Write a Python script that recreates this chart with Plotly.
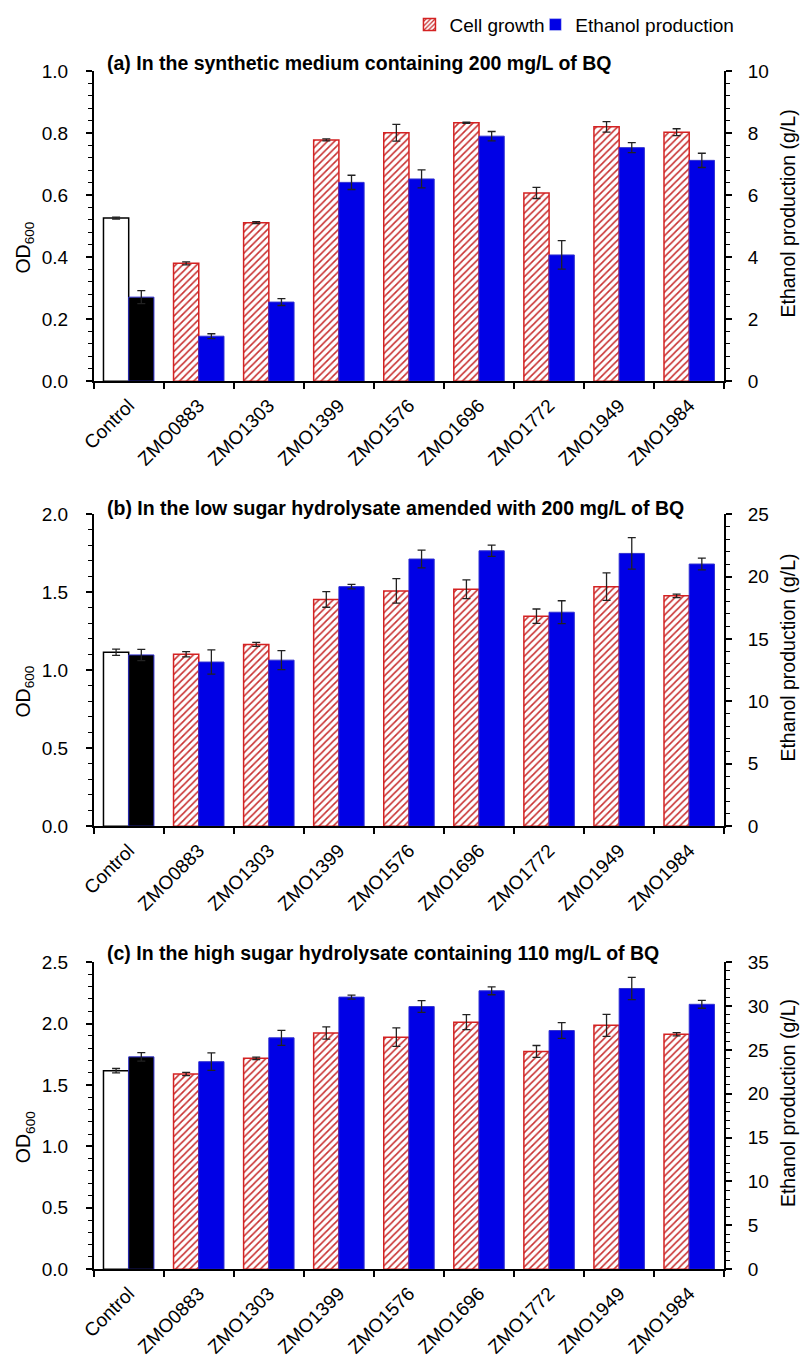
import plotly.graph_objects as go

categories = ["Control", "ZMO0883", "ZMO1303", "ZMO1399", "ZMO1576",
              "ZMO1696", "ZMO1772", "ZMO1949", "ZMO1984"]

# Panel (a) synthetic medium, 200 mg/L BQ
od_a = [0.526, 0.380, 0.511, 0.778, 0.801, 0.833, 0.607, 0.820, 0.803]
od_a_err = [0.003, 0.005, 0.003, 0.003, 0.027, 0.002, 0.018, 0.017, 0.011]
eth_a = [2.71, 1.45, 2.55, 6.41, 6.52, 7.90, 4.07, 7.53, 7.12]
eth_a_err = [0.21, 0.08, 0.11, 0.23, 0.29, 0.15, 0.46, 0.16, 0.23]

# Panel (b) low sugar hydrolysate, 200 mg/L BQ
od_b = [1.115, 1.102, 1.165, 1.453, 1.508, 1.518, 1.346, 1.535, 1.476]
od_b_err = [0.020, 0.017, 0.013, 0.050, 0.078, 0.060, 0.046, 0.088, 0.011]
eth_b = [13.72, 13.15, 13.30, 19.19, 21.40, 22.06, 17.14, 21.85, 21.00]
eth_b_err = [0.45, 0.97, 0.76, 0.18, 0.71, 0.45, 0.92, 1.26, 0.47]

# Panel (c) high sugar hydrolysate, 110 mg/L BQ
od_c = [1.616, 1.589, 1.717, 1.923, 1.889, 2.011, 1.773, 1.985, 1.913]
od_c_err = [0.018, 0.013, 0.010, 0.050, 0.075, 0.061, 0.048, 0.090, 0.013]
eth_c = [24.2, 23.65, 26.37, 31.01, 29.93, 31.73, 27.20, 31.99, 30.19]
eth_c_err = [0.48, 1.00, 0.86, 0.22, 0.67, 0.45, 0.90, 1.27, 0.45]

titles = ["(a) In the synthetic medium containing 200 mg/L of BQ",
          "(b) In the low sugar hydrolysate amended with 200 mg/L of BQ",
          "(c) In the high sugar hydrolysate containing 110 mg/L of BQ"]
od_ranges = [[0, 1.0], [0, 2.0], [0, 2.5]]
od_dticks = [0.2, 0.5, 0.5]
od_minor = [0.04, 0.1, 0.1]
eth_ranges = [[0, 10], [0, 25], [0, 35]]
eth_dticks = [2, 5, 5]
eth_minor = [0.4, 1, 1]

W, H = 800, 1361
FONT = "Liberation Sans, Arial, sans-serif"
RED = "#d42222"
HATCH = "#c83030"
BLUE = "#0000e6"

x_left, x_right = 82, 723
panels_px = [(62, 377), (512, 829), (967, 1279)]
title_y_px = [54, 506, 958]

fig = go.Figure()
n = len(categories)
panel_data = [(od_a, od_a_err, eth_a, eth_a_err),
              (od_b, od_b_err, eth_b, eth_b_err),
              (od_c, od_c_err, eth_c, eth_c_err)]

for i, (od, od_err, eth, eth_err) in enumerate(panel_data):
    xa = "x" if i == 0 else f"x{i+1}"
    yl = f"y{2*i+1}" if i > 0 else "y"
    yr = f"y{2*i+2}"
    fig.add_trace(go.Bar(
        x=categories, y=od, xaxis=xa, yaxis=yl,
        offset=-0.36, width=0.36, showlegend=False, name="Cell growth",
        marker=dict(color="white",
                    line=dict(color=["black"] + [RED] * (n - 1), width=1.5),
                    pattern=dict(shape=[""] + ["/"] * (n - 1),
                                 fgcolor=HATCH, bgcolor="white",
                                 fgopacity=1, size=5, solidity=0.32)),
        error_y=dict(type="data", array=od_err, color="#222222",
                     thickness=1.3, width=4),
    ))
    fig.add_trace(go.Bar(
        x=categories, y=eth, xaxis=xa, yaxis=yr,
        offset=0.0, width=0.36, showlegend=False, name="Ethanol production",
        marker=dict(color=["black"] + [BLUE] * (n - 1),
                    line=dict(color="#3030d0", width=1)),
        error_y=dict(type="data", array=eth_err, color="#222222",
                     thickness=1.3, width=4),
    ))

# legend entries (two legends placed side by side)
fig.add_trace(go.Bar(x=[None], y=[None], name="Cell growth", showlegend=True,
                     legend="legend",
                     marker=dict(color="white", line=dict(color=RED, width=1.5),
                                 pattern=dict(shape="/", fgcolor=HATCH, size=4,
                                              fgopacity=1, solidity=0.4))))
fig.add_trace(go.Bar(x=[None], y=[None], name="Ethanol production",
                     showlegend=True, legend="legend2",
                     marker=dict(color=BLUE)))

axis_common = dict(showline=True, linecolor="black", linewidth=1.5,
                   ticks="outside", ticklen=6, tickwidth=1.5, tickcolor="black",
                   showgrid=False, zeroline=False,
                   tickfont=dict(family=FONT, size=19, color="black"))

leg_common = dict(orientation="h", xanchor="left", y=(H - 15) / H,
                  yanchor="middle", font=dict(size=19, family=FONT),
                  itemwidth=30, bgcolor="rgba(0,0,0,0)")
layout = dict(width=W, height=H, margin=dict(l=0, r=0, t=0, b=0),
              paper_bgcolor="white", plot_bgcolor="white",
              font=dict(family=FONT, size=19, color="black"),
              barmode="overlay",
              legend=dict(leg_common, x=403 / W),
              legend2=dict(leg_common, x=531 / W))
annotations = []
for i in range(3):
    top, bot = panels_px[i]
    dom = [(H - bot) / H, (H - top) / H]
    xa_name = "xaxis" if i == 0 else f"xaxis{i+1}"
    yl_name = "yaxis" if i == 0 else f"yaxis{2*i+1}"
    yr_name = f"yaxis{2*i+2}"
    yl_ref = "y" if i == 0 else f"y{2*i+1}"
    xa_ref = "x" if i == 0 else f"x{i+1}"
    layout[xa_name] = dict(axis_common, domain=[x_left / W, x_right / W],
                           anchor=yl_ref, type="category",
                           categoryorder="array", categoryarray=categories,
                           range=[-0.5, n - 0.5], tickson="boundaries",
                           tickangle=-45, ticklabelstandoff=4)
    layout[yl_name] = dict(axis_common, domain=dom, anchor=xa_ref,
                           range=od_ranges[i], dtick=od_dticks[i],
                           tickformat=".1f", ticklabelstandoff=14,
                           minor=dict(dtick=od_minor[i], ticks="outside",
                                      ticklen=4, tickwidth=1.2,
                                      tickcolor="black"))
    layout[yr_name] = dict(axis_common, domain=dom, anchor=xa_ref,
                           overlaying=yl_ref, side="right",
                           range=eth_ranges[i], dtick=eth_dticks[i],
                           ticklabelstandoff=12,
                           minor=dict(dtick=eth_minor[i], ticks="outside",
                                      ticklen=4, tickwidth=1.2,
                                      tickcolor="black"))
    annotations.append(dict(text=f"<b>{titles[i]}</b>", xref="paper",
                            yref="paper", x=94 / W, y=(H - title_y_px[i]) / H,
                            xanchor="left", yanchor="middle", showarrow=False,
                            font=dict(family=FONT, size=19.5, color="black")))
    mid = (H - (top + bot) / 2) / H
    annotations.append(dict(text="OD<sub>600</sub>", xref="paper",
                            yref="paper", x=12 / W, y=mid - 22 / H,
                            textangle=-90, xanchor="center",
                            yanchor="middle", showarrow=False,
                            font=dict(family=FONT, size=19.5, color="black")))
    annotations.append(dict(text="Ethanol production (g/L)", xref="paper",
                            yref="paper", x=788 / W, y=mid + 13 / H,
                            textangle=-90, xanchor="center",
                            yanchor="middle", showarrow=False,
                            font=dict(family=FONT, size=19.5, color="black")))
layout["annotations"] = annotations
fig.update_layout(**layout)

fig.write_html("out.html", config={"displayModeBar": False},
               post_script="document.body.style.margin='0';")
